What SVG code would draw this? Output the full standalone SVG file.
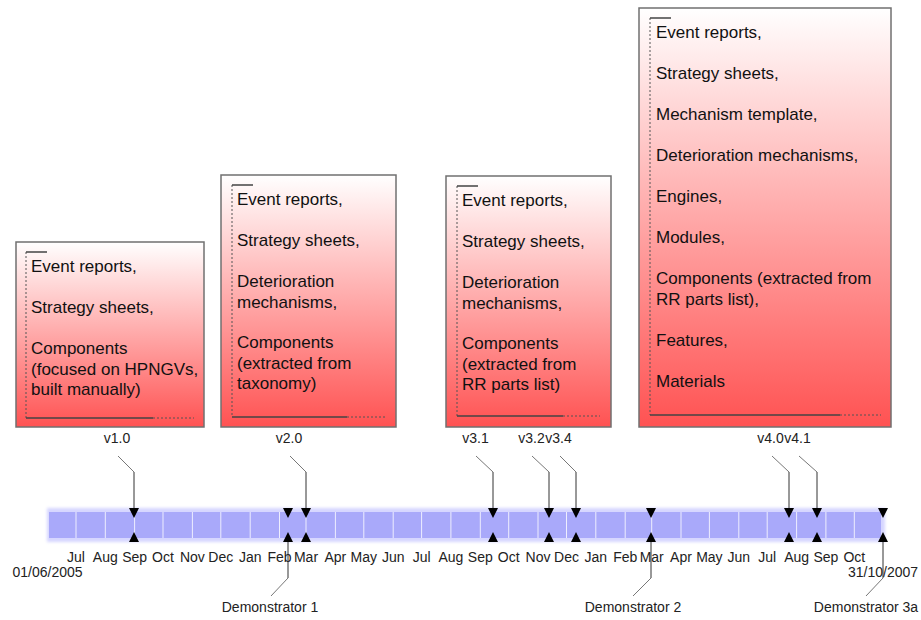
<svg xmlns="http://www.w3.org/2000/svg" width="921" height="620" viewBox="0 0 921 620">
<defs>
<linearGradient id="redgrad" x1="0" y1="0" x2="0" y2="1">
<stop offset="0" stop-color="#ffffff"/>
<stop offset="1" stop-color="#ff5252"/>
</linearGradient>
<filter id="glow" x="-5%" y="-50%" width="110%" height="200%">
<feGaussianBlur stdDeviation="1.5"/>
</filter>
</defs>
<style>
.box{fill:url(#redgrad);stroke:#707070;stroke-width:1.5}
.brk{fill:none;stroke:#555;stroke-width:1;stroke-dasharray:2,2}
.brs{fill:none;stroke:#444;stroke-width:1.3}
.bt{font-family:"Liberation Sans",Arial,sans-serif;font-size:17px;fill:#111}
.lbl{font-family:"Liberation Sans",Arial,sans-serif;font-size:14px;fill:#222}
.mon{font-family:"Liberation Sans",Arial,sans-serif;font-size:14px;fill:#222;text-anchor:middle}
.ld{fill:none;stroke:#333;stroke-width:1}
.ldg{fill:none;stroke:#777;stroke-width:1}
.tri{fill:#000}
.div{stroke:#ffffff;stroke-width:1;stroke-opacity:0.8}
</style>

<g id="box-v1">
<rect class="box" x="16" y="242" width="188" height="185"/>
<path class="brk" d="M26,252 V418"/>
<path class="brs" d="M26,252 H47 M26,418 H153"/>
<path class="brk" d="M153,418 H194"/>
<text class="bt" x="31" y="272">Event reports,</text>
<text class="bt" x="31" y="313">Strategy sheets,</text>
<text class="bt" x="31" y="354">Components</text>
<text class="bt" x="31" y="374.5">(focused on HPNGVs,</text>
<text class="bt" x="31" y="395">built manually)</text>
</g>

<g id="box-v2">
<rect class="box" x="221" y="175" width="175" height="252"/>
<path class="brk" d="M232,185 V417"/>
<path class="brs" d="M232,185 H253 M232,417 H347"/>
<path class="brk" d="M347,417 H386"/>
<text class="bt" x="237" y="205">Event reports,</text>
<text class="bt" x="237" y="246">Strategy sheets,</text>
<text class="bt" x="237" y="287">Deterioration</text>
<text class="bt" x="237" y="307.5">mechanisms,</text>
<text class="bt" x="237" y="348">Components</text>
<text class="bt" x="237" y="368.5">(extracted from</text>
<text class="bt" x="237" y="389">taxonomy)</text>
</g>

<g id="box-v3">
<rect class="box" x="446" y="176" width="165" height="251"/>
<path class="brk" d="M457,186 V416"/>
<path class="brs" d="M457,186 H478 M457,416 H563"/>
<path class="brk" d="M563,416 H600"/>
<text class="bt" x="462" y="206">Event reports,</text>
<text class="bt" x="462" y="247">Strategy sheets,</text>
<text class="bt" x="462" y="288">Deterioration</text>
<text class="bt" x="462" y="308.5">mechanisms,</text>
<text class="bt" x="462" y="349">Components</text>
<text class="bt" x="462" y="369.5">(extracted from</text>
<text class="bt" x="462" y="390">RR parts list)</text>
</g>

<g id="box-v4">
<rect class="box" x="639" y="8" width="252" height="419"/>
<path class="brk" d="M650,18 V415"/>
<path class="brs" d="M650,18 H671 M650,415 H840"/>
<path class="brk" d="M840,415 H881"/>
<text class="bt" x="656" y="38">Event reports,</text>
<text class="bt" x="656" y="79">Strategy sheets,</text>
<text class="bt" x="656" y="120">Mechanism template,</text>
<text class="bt" x="656" y="161">Deterioration mechanisms,</text>
<text class="bt" x="656" y="202">Engines,</text>
<text class="bt" x="656" y="243">Modules,</text>
<text class="bt" x="656" y="284">Components (extracted from</text>
<text class="bt" x="656" y="304.5">RR parts list),</text>
<text class="bt" x="656" y="345.5">Features,</text>
<text class="bt" x="656" y="386.5">Materials</text>
</g>

<g id="timeline">
<rect x="47" y="508" width="838" height="34" fill="#d6d6ff" filter="url(#glow)"/>
<rect x="49" y="512" width="832" height="26" fill="#a9a9fa"/>
<g class="div">
<line x1="76" y1="512" x2="76" y2="538"/>
<line x1="105.3" y1="512" x2="105.3" y2="538"/>
<line x1="134.6" y1="512" x2="134.6" y2="538"/>
<line x1="163" y1="512" x2="163" y2="538"/>
<line x1="192.4" y1="512" x2="192.4" y2="538"/>
<line x1="220.8" y1="512" x2="220.8" y2="538"/>
<line x1="250.2" y1="512" x2="250.2" y2="538"/>
<line x1="279.5" y1="512" x2="279.5" y2="538"/>
<line x1="306" y1="512" x2="306" y2="538"/>
<line x1="335.4" y1="512" x2="335.4" y2="538"/>
<line x1="363.8" y1="512" x2="363.8" y2="538"/>
<line x1="393.2" y1="512" x2="393.2" y2="538"/>
<line x1="421.6" y1="512" x2="421.6" y2="538"/>
<line x1="450.9" y1="512" x2="450.9" y2="538"/>
<line x1="480.3" y1="512" x2="480.3" y2="538"/>
<line x1="508.7" y1="512" x2="508.7" y2="538"/>
<line x1="538" y1="512" x2="538" y2="538"/>
<line x1="566.5" y1="512" x2="566.5" y2="538"/>
<line x1="595.8" y1="512" x2="595.8" y2="538"/>
<line x1="625.2" y1="512" x2="625.2" y2="538"/>
<line x1="651.7" y1="512" x2="651.7" y2="538"/>
<line x1="681" y1="512" x2="681" y2="538"/>
<line x1="709.4" y1="512" x2="709.4" y2="538"/>
<line x1="738.8" y1="512" x2="738.8" y2="538"/>
<line x1="767.2" y1="512" x2="767.2" y2="538"/>
<line x1="796.6" y1="512" x2="796.6" y2="538"/>
<line x1="825.9" y1="512" x2="825.9" y2="538"/>
<line x1="854.3" y1="512" x2="854.3" y2="538"/>
</g>
<g class="mon">
<text x="76" y="562">Jul</text>
<text x="105.3" y="562">Aug</text>
<text x="134.6" y="562">Sep</text>
<text x="163" y="562">Oct</text>
<text x="192.4" y="562">Nov</text>
<text x="220.8" y="562">Dec</text>
<text x="250.2" y="562">Jan</text>
<text x="279.5" y="562">Feb</text>
<text x="306" y="562">Mar</text>
<text x="335.4" y="562">Apr</text>
<text x="363.8" y="562">May</text>
<text x="393.2" y="562">Jun</text>
<text x="421.6" y="562">Jul</text>
<text x="450.9" y="562">Aug</text>
<text x="480.3" y="562">Sep</text>
<text x="508.7" y="562">Oct</text>
<text x="538" y="562">Nov</text>
<text x="566.5" y="562">Dec</text>
<text x="595.8" y="562">Jan</text>
<text x="625.2" y="562">Feb</text>
<text x="651.7" y="562">Mar</text>
<text x="681" y="562">Apr</text>
<text x="709.4" y="562">May</text>
<text x="738.8" y="562">Jun</text>
<text x="767.2" y="562">Jul</text>
<text x="796.6" y="562">Aug</text>
<text x="825.9" y="562">Sep</text>
<text x="854.3" y="562">Oct</text>
<text x="47.5" y="577">01/06/2005</text>
<text x="883" y="577">31/10/2007</text>
</g>
</g>

<g id="markers" class="tri">
<path d="M129,508 H139 L134,518 Z M134,532 L139,542 H129 Z"/>
<path d="M283,508 H293 L288,518 Z M288,532 L293,542 H283 Z"/>
<path d="M301,508 H311 L306,518 Z M306,532 L311,542 H301 Z"/>
<path d="M488,508 H498 L493,518 Z M493,532 L498,542 H488 Z"/>
<path d="M544,508 H554 L549,518 Z M549,532 L554,542 H544 Z"/>
<path d="M571,508 H581 L576,518 Z M576,532 L581,542 H571 Z"/>
<path d="M646,508 H656 L651,518 Z M651,532 L656,542 H646 Z"/>
<path d="M784,508 H794 L789,518 Z M789,532 L794,542 H784 Z"/>
<path d="M812,508 H822 L817,518 Z M817,532 L822,542 H812 Z"/>
<path d="M878,508 H888 L883,518 Z M883,532 L888,542 H878 Z"/>
</g>

<g id="connectors">
<path class="ldg" d="M118,456 L134,472"/><path class="ld" d="M134,472 V508"/>
<path class="ldg" d="M290,456 L306,472"/><path class="ld" d="M306,472 V508"/>
<path class="ldg" d="M476,456 L493,472"/><path class="ld" d="M493,472 V508"/>
<path class="ldg" d="M532,456 L549,472"/><path class="ld" d="M549,472 V508"/>
<path class="ldg" d="M560,456 L576,472"/><path class="ld" d="M576,472 V508"/>
<path class="ldg" d="M772,456 L789,472"/><path class="ld" d="M789,472 V508"/>
<path class="ldg" d="M799,456 L817,472"/><path class="ld" d="M817,472 V508"/>
<path class="ld" d="M288,542 V578"/><path class="ldg" d="M288,578 L271,596"/>
<path class="ld" d="M651,542 V578"/><path class="ldg" d="M651,578 L633,596"/>
<path class="ld" d="M883,542 V578"/><path class="ldg" d="M883,578 L866,596"/>
</g>

<g id="labels" class="lbl" text-anchor="middle">
<text x="117" y="443">v1.0</text>
<text x="289" y="443">v2.0</text>
<text x="475.5" y="443">v3.1</text>
<text x="531.5" y="443">v3.2</text>
<text x="558.5" y="443">v3.4</text>
<text x="770.5" y="443">v4.0</text>
<text x="797.5" y="443">v4.1</text>
<text x="270" y="612">Demonstrator 1</text>
<text x="633" y="612">Demonstrator 2</text>
<text x="866" y="612">Demonstrator 3a</text>
</g>
</svg>
